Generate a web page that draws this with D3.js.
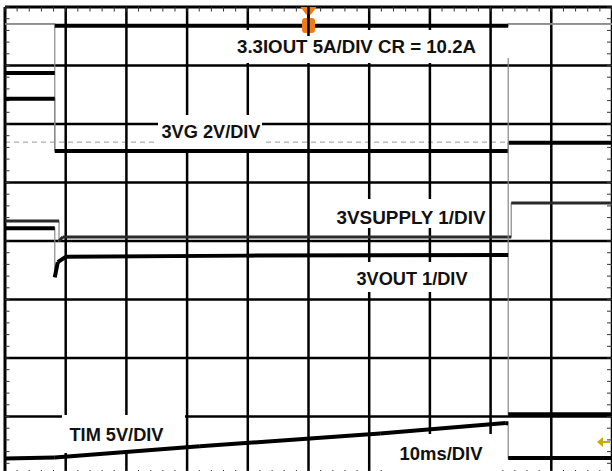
<!DOCTYPE html>
<meta charset="utf-8">
<style>
body { margin: 0; background: #fff; }
svg { display: block; }
.grid line { stroke: #000; stroke-width: 2.5; }
.ticks line { stroke: #333; stroke-width: 1; }
.label { font-family: "Liberation Sans", Arial, sans-serif; font-weight: bold; font-size: 18px; fill: #111; }
</style>
<svg width="612" height="471"></svg>
<script src="https://d3js.org/d3.v7.min.js"></script>
<script>
// scope screen: 10 ms/div across, 8 divisions up/down
var timeTicks = [0, 10, 20, 30, 40, 50, 60, 70, 80, 90, 100];
var divTicks = [-4, -3, -2, -1, 0, 1, 2, 3, 4];

// traces as [time ms, level in divisions]
var iout    = [[0, 3.71], [8.2, 3.71], [8.2, 1.54], [8.2, 3.68], [82.9, 3.68], [82.9, 3.71], [100, 3.71]];
var aux     = [[0, 2.87], [8.2, 2.87]];
var vg      = [[0, 2.43], [8.2, 2.43], [8.2, 1.54], [82.9, 1.54], [82.9, 1.68], [100, 1.68]];
var vsupply = [[0, 0.34], [8.9, 0.34], [8.9, 0.0], [9.5, 0.07], [83.4, 0.07], [83.4, 0.65], [100, 0.65]];
var vout    = [[0, 0.22], [8.2, 0.22], [8.2, -0.62], [8.7, -0.36], [10, -0.27], [40, -0.25], [82.9, -0.24],
               [82.9, 3.13], [82.9, -2.96], [100, -2.96]];
var tim     = [[0, -3.72], [8.2, -3.70], [32.1, -3.51], [61.8, -3.29], [82.5, -3.11], [82.9, -3.12],
               [82.9, -3.71], [100, -3.71]];
var cursorLevel = 1.69;
var triggerTime = 50;
var groundMark = -3.4;

// time windows where a trace is drawn as a fat noisy band
var heavy = {
  iout: [[8.2, 82.9]],
  aux: [[0, 100]],
  vg: [[0, 100]],
  vsupply: [],
  vout: [[0, 100]],
  tim: [[0, 100]]
};

var labels = ["3.3IOUT 5A/DIV CR = 10.2A", "3VG 2V/DIV", "3VSUPPLY 1/DIV", "3VOUT 1/DIV", "TIM 5V/DIV", "10ms/DIV"];

var svg = d3.select("svg");
var x = d3.scaleLinear().domain([0, 100]).range([5, 612]);
var y = d3.scaleLinear().domain([-4, 4]).range([475, 7]);

// cursor line (sits under the label boxes)
svg.append("line")
    .attr("x1", x(0)).attr("x2", x(100))
    .attr("y1", y(cursorLevel)).attr("y2", y(cursorLevel))
    .attr("stroke", "#999").attr("stroke-width", 1)
    .attr("stroke-dasharray", "5,4");

// grid
var grid = svg.append("g").attr("class", "grid");
grid.selectAll("line.v").data(timeTicks).enter().append("line")
    .attr("x1", function(d) { return x(d); }).attr("x2", function(d) { return x(d); })
    .attr("y1", y(4)).attr("y2", y(-4))
    .style("stroke-width", function(d) { return d === 0 ? 3 : 2.5; });
grid.selectAll("line.h").data(divTicks).enter().append("line")
    .attr("x1", x(0)).attr("x2", x(100))
    .attr("y1", function(d) { return y(d); }).attr("y2", function(d) { return y(d); })
    .style("stroke-width", function(d) { return d === 4 ? 3 : 2.5; });

// minor ticks on the border, 5 per division
var minorT = d3.range(0, 100.01, 2);
var minorV = d3.range(-4, 4.01, 0.2);
var ticks = svg.append("g").attr("class", "ticks");
ticks.selectAll("line.t").data(minorT).enter().append("line")
    .attr("x1", function(d) { return x(d); }).attr("x2", function(d) { return x(d); })
    .attr("y1", y(4)).attr("y2", y(4) + 4.5);
ticks.selectAll("line.b").data(minorT).enter().append("line")
    .attr("x1", function(d) { return x(d); }).attr("x2", function(d) { return x(d); })
    .attr("y1", y(-4)).attr("y2", y(-4) - 5);
ticks.selectAll("line.l").data(minorV).enter().append("line")
    .attr("x1", x(0)).attr("x2", x(0) + 4.5)
    .attr("y1", function(d) { return y(d); }).attr("y2", function(d) { return y(d); });
ticks.selectAll("line.r").data(minorV).enter().append("line")
    .attr("x1", x(100)).attr("x2", x(100) - 5)
    .attr("y1", function(d) { return y(d); }).attr("y2", function(d) { return y(d); });

// white label boxes hide the grid behind them
var place = [
  {box: [232, 30, 256, 33], tx: 237, ty: 52.5, w: 239},
  {box: [158, 115, 104, 34], tx: 161.5, ty: 137.5, w: 99},
  {box: [332, 199, 156, 29], tx: 336.5, ty: 224, w: 149},
  {box: [350, 262, 138, 30], tx: 356.5, ty: 284.5, w: 111},
  {box: [62, 415, 123, 38], tx: 69.5, ty: 440.5, w: 94},
  {box: [388, 434, 108, 41], tx: 399.5, ty: 460, w: 83}
];
svg.append("g").selectAll("rect").data(place).enter().append("rect")
    .attr("x", function(d) { return d.box[0]; }).attr("y", function(d) { return d.box[1]; })
    .attr("width", function(d) { return d.box[2]; }).attr("height", function(d) { return d.box[3]; })
    .attr("fill", "#fff");

// traces
var line = d3.line().x(function(d) { return x(d[0]); }).y(function(d) { return y(d[1]); });
var traces = [
  {name: "iout", pts: iout},
  {name: "aux", pts: aux},
  {name: "vg", pts: vg},
  {name: "vsupply", pts: vsupply},
  {name: "vout", pts: vout},
  {name: "tim", pts: tim}
];
var tg = svg.append("g");
traces.forEach(function(tr) {
  tg.append("path").datum(tr.pts)
      .attr("d", line).attr("fill", "none")
      .attr("stroke", "#888").attr("stroke-width", 1.2);
  var segs = [];
  for (var i = 1; i < tr.pts.length; i++) {
    var a = tr.pts[i - 1], b = tr.pts[i];
    if (a[0] === b[0]) continue;
    var mid = (a[0] + b[0]) / 2;
    var fat = heavy[tr.name].some(function(w) { return mid >= w[0] && mid <= w[1]; });
    segs.push({p: [a, b], fat: fat, thin: tr.name === "iout"});
  }
  tg.selectAll(null).data(segs).enter().append("path")
      .attr("d", function(d) { return line(d.p); })
      .attr("fill", "none")
      .attr("stroke", function(d) { return d.fat ? "#000" : (d.thin ? "#888" : "#2a2a2a"); })
      .attr("stroke-width", function(d) { return d.fat ? 4 : (d.thin ? 1.4 : 3); });
});

// trigger marker at top, the centre grid line runs over it
var tx = x(triggerTime);
svg.append("path")
    .attr("d", "M" + (tx - 8) + ",7 L" + (tx + 8) + ",7 L" + (tx + 2.5) + ",14.5 L" + (tx - 2.5) + ",14.5 Z")
    .attr("fill", "#f07d14");
svg.append("rect")
    .attr("x", tx - 6.5).attr("y", 18).attr("width", 13).attr("height", 15).attr("rx", 3)
    .attr("fill", "#f07d14");
svg.append("line")
    .attr("x1", tx).attr("x2", tx).attr("y1", y(4)).attr("y2", 36)
    .attr("stroke", "#000").attr("stroke-width", 2.5);

// ground arrow on the right edge
var gy = y(groundMark) + 2;
svg.append("path")
    .attr("d", "M597," + gy + " L603," + (gy - 5) + " L603," + (gy - 1) + " L610," + (gy - 1) +
               " L610," + (gy + 1) + " L603," + (gy + 1) + " L603," + (gy + 5) + " Z")
    .attr("fill", "#c4b000");

// labels
svg.append("g").selectAll("text").data(labels).enter().append("text")
    .attr("class", "label")
    .attr("x", function(d, i) { return place[i].tx; })
    .attr("y", function(d, i) { return place[i].ty; })
    .attr("textLength", function(d, i) { return place[i].w; })
    .attr("lengthAdjust", "spacingAndGlyphs")
    .text(function(d) { return d; });
</script>
